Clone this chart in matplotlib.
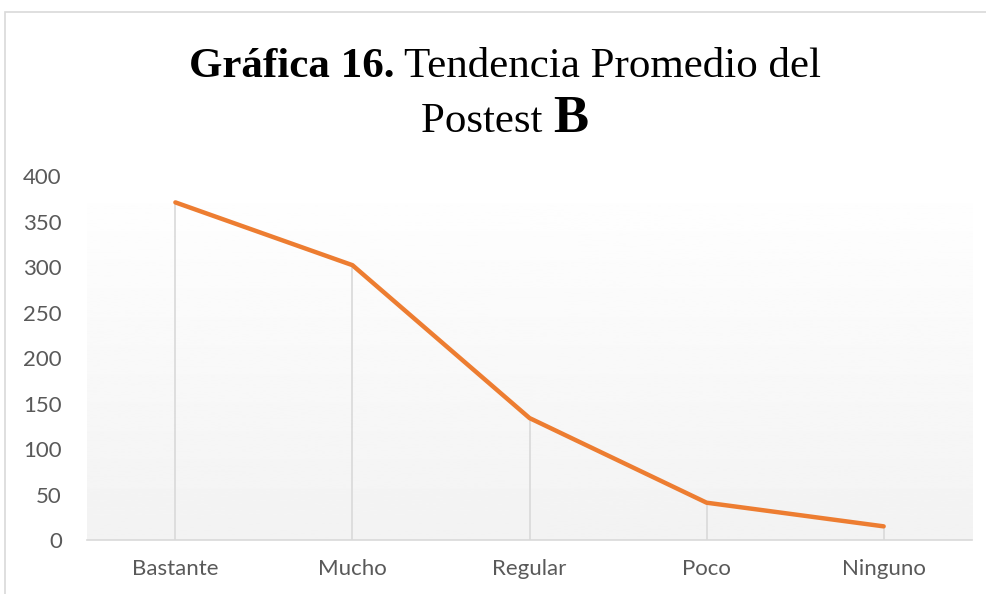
import matplotlib
matplotlib.use("Agg")
import matplotlib.pyplot as plt
import numpy as np
from matplotlib.patches import Rectangle

categorias = ["Bastante", "Mucho", "Regular", "Poco", "Ninguno"]
valores = [371, 302, 134, 41, 15]
yticks = [0, 50, 100, 150, 200, 250, 300, 350, 400]

fig = plt.figure(figsize=(9.87, 5.94), dpi=100)
ax = fig.add_axes([0.088, 0.0909, 0.897, 0.6128])

x = np.arange(len(categorias))

# fondo degradado del area de trazado
grad = np.linspace(0.95, 1.0, 256).reshape(-1, 1)
ax.imshow(grad, cmap="gray", vmin=0, vmax=1, aspect="auto",
          extent=[-0.5, 4.5, 0, 400], origin="lower", zorder=0)

# lineas de caida
ax.vlines(x, 0, valores, color="#d9d9d9", lw=1.2, zorder=1)
ax.plot(x, valores, color="#ED7D31", lw=3.2, solid_capstyle="round", zorder=3)

ax.set_xlim(-0.5, 4.5)
ax.set_ylim(0, 400)
ax.set_yticks(yticks)
ax.set_xticks(x)
ax.set_xticklabels(categorias)
for s in ["top", "right", "left"]:
    ax.spines[s].set_visible(False)
ax.spines["bottom"].set_color("#d9d9d9")
ax.spines["bottom"].set_linewidth(1.2)
ax.tick_params(length=0, labelsize=16, labelcolor="#595959")
ax.tick_params(axis="x", pad=14)
ax.tick_params(axis="y", pad=18)
for lab in ax.get_xticklabels() + ax.get_yticklabels():
    lab.set_family("Lato")

# marco del grafico
fig.patches.append(Rectangle((0.005, -0.1), 1.2, 1.08, transform=fig.transFigure,
                             fill=False, edgecolor="#d9d9d9", lw=1.2))

# titulo en dos lineas con partes en negrita
def linea(piezas, y):
    r = fig.canvas.get_renderer()
    textos = []
    for txt, peso, tam in piezas:
        t = fig.text(0, y, txt, family="Liberation Serif", weight=peso,
                     fontsize=tam, va="baseline", ha="left")
        textos.append(t)
    anchos = [t.get_window_extent(r).width for t in textos]
    total = sum(anchos)
    xpos = 505 - total / 2
    for t, w in zip(textos, anchos):
        t.set_x(xpos / 987)
        xpos += w

linea([("Gráfica 16.", "bold", 31), (" Tendencia Promedio del", "normal", 31)], 1 - 77 / 594)
linea([("Postest ", "normal", 31), ("B", "bold", 38)], 1 - 132 / 594)

plt.savefig("out.png", dpi=100)
